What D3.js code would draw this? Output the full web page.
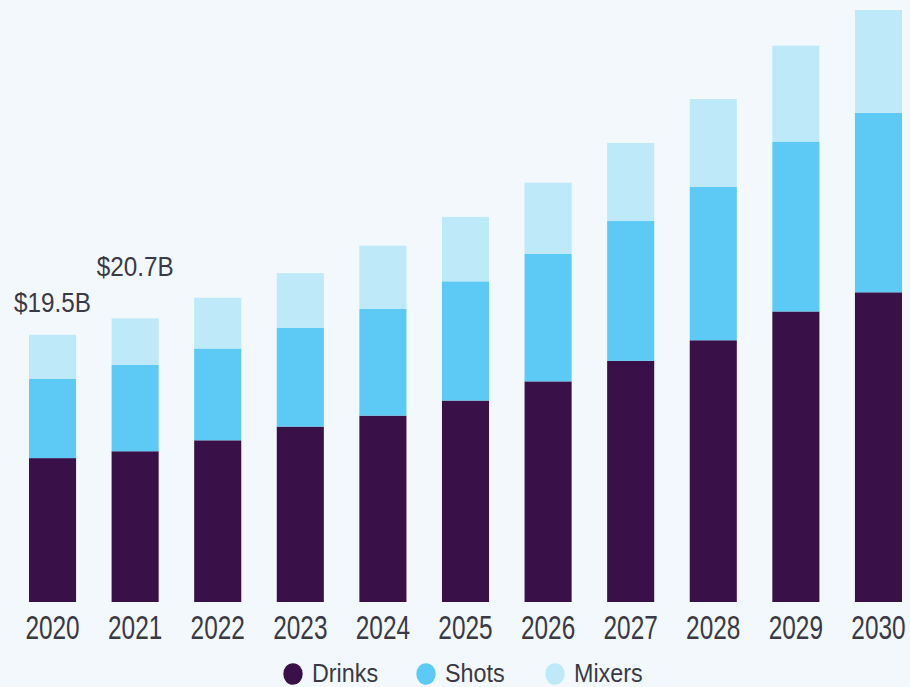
<!DOCTYPE html>
<html>
<head>
  <meta charset="utf-8">
  <title>Market size by product</title>
  <style>
    html, body { margin: 0; padding: 0; background: #f3f8fc; }
    svg { display: block; }
    text { font-family: "Liberation Sans", Arial, sans-serif; fill: #3a3a44; }
  </style>
  <script src="https://cdn.jsdelivr.net/npm/d3@7"></script>
</head>
<body>
<svg id="chart" width="910" height="687"></svg>
<script>
  // values in USD billion
  var years = ['2020', '2021', '2022', '2023', '2024', '2025', '2026', '2027', '2028', '2029', '2030'];
  var drinks = [10.5, 11.0, 11.8, 12.8, 13.6, 14.7, 16.1, 17.6, 19.1, 21.2, 22.6];
  var shots  = [5.8, 6.3, 6.7, 7.2, 7.8, 8.7, 9.3, 10.2, 11.2, 12.4, 13.1];
  var mixers = [3.2, 3.4, 3.7, 4.0, 4.6, 4.7, 5.2, 5.7, 6.4, 7.0, 7.5];
  var seriesNames = ['Drinks', 'Shots', 'Mixers'];
  var colors = ['#3a1048', '#5ccaf5', '#bde9f9'];
  var valueLabels = [{year: '2020', text: '$19.5B', dy: -23}, {year: '2021', text: '$20.7B', dy: -42}];

  var svg = d3.select('#chart');
  var baseY = 602;

  var rows = years.map(function(y, i) {
    return {year: y, Drinks: drinks[i], Shots: shots[i], Mixers: mixers[i]};
  });
  var stacked = d3.stack().keys(seriesNames)(rows);

  var x = d3.scaleBand().domain(years).range([29, 902]).paddingInner(0.43).paddingOuter(0);
  var y = d3.scaleLinear().domain([0, 43.2]).range([baseY, 10]);
  var color = d3.scaleOrdinal().domain(seriesNames).range(colors);

  svg.append('g').selectAll('g')
    .data(stacked)
    .join('g')
      .attr('fill', function(d) { return color(d.key); })
    .selectAll('rect')
    .data(function(d) { return d; })
    .join('rect')
      .attr('x', function(d) { return x(d.data.year); })
      .attr('y', function(d) { return y(d[1]); })
      .attr('width', x.bandwidth())
      .attr('height', function(d) { return y(d[0]) - y(d[1]); });

  // year labels (font is narrower in the original, so squeeze horizontally)
  svg.append('g').selectAll('text')
    .data(years)
    .join('text')
      .attr('transform', function(d) { return 'translate(' + (x(d) + x.bandwidth() / 2) + ',639) scale(0.74,1)'; })
      .attr('text-anchor', 'middle')
      .style('font-size', '33px')
      .text(function(d) { return d; });

  // total labels on first two bars
  svg.append('g').selectAll('text')
    .data(valueLabels)
    .join('text')
      .attr('transform', function(d) {
        var i = years.indexOf(d.year);
        var ty = y(drinks[i] + shots[i] + mixers[i]) + d.dy;
        return 'translate(' + (x(d.year) + x.bandwidth() / 2) + ',' + ty + ') scale(0.9,1)';
      })
      .attr('text-anchor', 'middle')
      .style('font-size', '27px')
      .text(function(d) { return d.text; });

  // legend
  var legendX = [293, 426, 555];
  var legend = svg.append('g').selectAll('g')
    .data(seriesNames)
    .join('g')
      .attr('transform', function(d, i) { return 'translate(' + legendX[i] + ',674)'; });
  legend.append('ellipse')
    .attr('rx', 9.7)
    .attr('ry', 10.8)
    .attr('fill', function(d) { return color(d); });
  legend.append('text')
    .attr('transform', 'translate(19,8) scale(0.88,1)')
    .style('font-size', '26.5px')
    .text(function(d) { return d; });
</script>
</body>
</html>
